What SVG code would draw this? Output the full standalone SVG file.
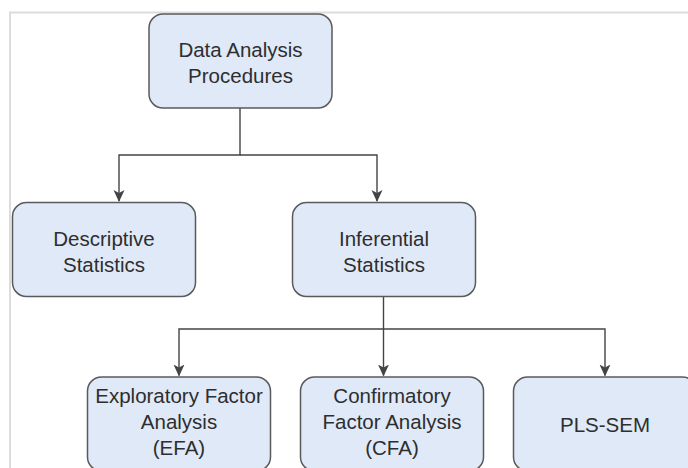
<svg xmlns="http://www.w3.org/2000/svg" width="688" height="468" viewBox="0 0 688 468">
<style>
.box{fill:#dfe9f8;stroke:#5a5a5a;stroke-width:1.5}
.t{font-family:"Liberation Sans",Arial,sans-serif;font-size:20.5px;fill:#2e2e2e;text-anchor:middle}
.e{fill:none;stroke:#444;stroke-width:1.4}
</style>
<defs>
<marker id="a" viewBox="0 0 12 12" refX="11" refY="6" markerWidth="12" markerHeight="12" markerUnits="userSpaceOnUse" orient="auto">
<path d="M0,0.5 L12,6 L0,11.5 L3,6 Z" fill="#444"/>
</marker>
</defs>
<rect width="688" height="468" fill="#fff"/>
<path d="M10,468 V12.5 H688" fill="none" stroke="#dcdcdc" stroke-width="2"/>
<g id="connectors">
<path class="e" d="M240,108 V155 H119 V201" marker-end="url(#a)"/>
<path class="e" d="M240,155 H377 V201" marker-end="url(#a)"/>
<path class="e" d="M383.5,297 V375.5" marker-end="url(#a)"/>
<path class="e" d="M383.5,329 H179 V375.5" marker-end="url(#a)"/>
<path class="e" d="M383.5,329 H605 V375.5" marker-end="url(#a)"/>
</g>
<g id="n-data">
<rect class="box" x="149" y="14" width="183" height="94" rx="14"/>
<text class="t" x="240.5" y="57">Data Analysis</text>
<text class="t" x="240.5" y="83">Procedures</text>
</g>
<g id="n-desc">
<rect class="box" x="12.5" y="202.5" width="183" height="94" rx="14"/>
<text class="t" x="104" y="245.5">Descriptive</text>
<text class="t" x="104" y="271.5">Statistics</text>
</g>
<g id="n-inf">
<rect class="box" x="292.5" y="202.5" width="183" height="94" rx="14"/>
<text class="t" x="384" y="245.5">Inferential</text>
<text class="t" x="384" y="271.5">Statistics</text>
</g>
<g id="n-efa">
<rect class="box" x="87.5" y="377" width="183" height="94" rx="14"/>
<text class="t" x="179" y="403">Exploratory Factor</text>
<text class="t" x="179" y="429">Analysis</text>
<text class="t" x="179" y="455">(EFA)</text>
</g>
<g id="n-cfa">
<rect class="box" x="300.5" y="377" width="183" height="94" rx="14"/>
<text class="t" x="392" y="403">Confirmatory</text>
<text class="t" x="392" y="429">Factor Analysis</text>
<text class="t" x="392" y="455">(CFA)</text>
</g>
<g id="n-pls">
<rect class="box" x="513.5" y="377" width="183" height="94" rx="14"/>
<text class="t" x="605" y="431.5">PLS-SEM</text>
</g>
</svg>
